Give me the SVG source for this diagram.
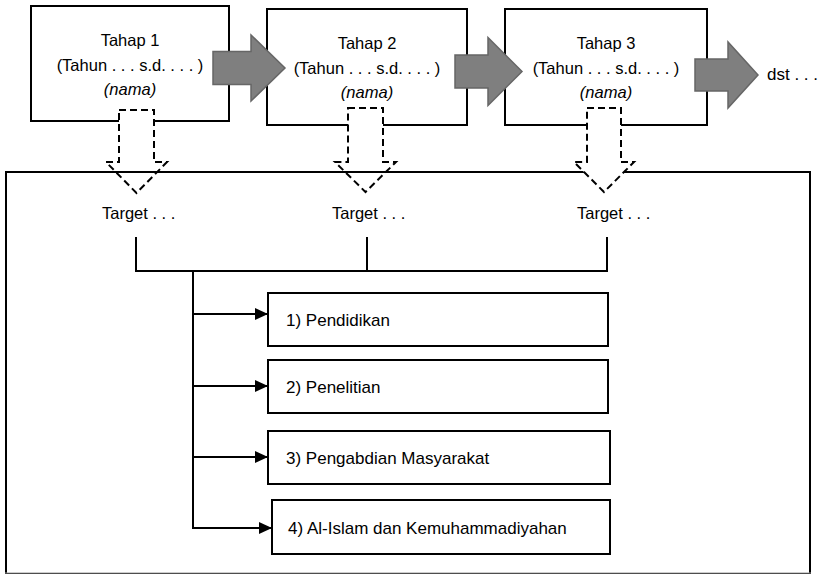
<svg xmlns="http://www.w3.org/2000/svg" width="825" height="574" viewBox="0 0 825 574">
<style>
text{font-family:"Liberation Sans",Arial,sans-serif;fill:#000}
.t{font-size:16.5px;text-anchor:middle}
.it{font-style:italic}
.tg{font-size:16.5px}
.bx{font-size:17px}
.box{fill:#fff;stroke:#000;stroke-width:2}
.big{fill:none;stroke:#000;stroke-width:2}
.gar{fill:#7f7f7f;stroke:#666;stroke-width:1.5;stroke-linejoin:miter}
.dar{fill:#fff;stroke:#000;stroke-width:2;stroke-dasharray:7 4}
.ln{fill:none;stroke:#000;stroke-width:2}
</style>
<defs>
<marker id="ah" markerWidth="13" markerHeight="12" refX="13" refY="6" orient="auto" markerUnits="userSpaceOnUse">
<path d="M0,0 L13,6 L0,12 Z" fill="#000"/>
</marker>
</defs>
<g id="tahap1">
<rect class="box" x="31" y="6" width="198" height="115"/>
<text class="t" x="130" y="46">Tahap 1</text>
<text class="t" x="130" y="71">(Tahun . . . s.d. . . . )</text>
<text class="t it" x="130" y="95">(nama)</text>
</g>
<g id="tahap2">
<rect class="box" x="267" y="9" width="200" height="116"/>
<text class="t" x="367" y="49">Tahap 2</text>
<text class="t" x="367" y="74">(Tahun . . . s.d. . . . )</text>
<text class="t it" x="367" y="98">(nama)</text>
</g>
<g id="tahap3">
<rect class="box" x="505" y="9" width="202" height="116"/>
<text class="t" x="606" y="49">Tahap 3</text>
<text class="t" x="606" y="74">(Tahun . . . s.d. . . . )</text>
<text class="t it" x="606" y="98">(nama)</text>
</g>
<g id="dst">
<text x="767" y="80" style="font-size:17px">dst . . .</text>
</g>
<g id="flow-arrows">
<polygon class="gar" points="213,51.5 251,51.5 251,35 285,68 251,101 251,84.5 213,84.5"/>
<polygon class="gar" points="455,55 488,55 488,37.5 522,71.5 488,105.5 488,88 455,88"/>
<polygon class="gar" points="695,59 728,59 728,42 758,75 728,108 728,91 695,91"/>
</g>
<g id="down-arrows-1-2">
<polygon class="dar" points="119,110 154,110 154,162 167,162 136.5,193 106,162 119,162"/>
<polygon class="dar" points="348,108 383,108 383,162 396,162 365.5,192 335,162 348,162"/>
</g>
<g id="target-panel">
<rect class="big" x="6" y="172" width="804" height="402"/>
<line x1="5" y1="573" x2="811" y2="573" stroke="#9a9a9a" stroke-width="1"/>
</g>
<g id="down-arrow-3">
<polygon class="dar" points="587,108 621,108 621,162 634,162 604,192 574,162 587,162"/>
</g>
<g id="target1"><text class="tg" x="102" y="219">Target . . .</text></g>
<g id="target2"><text class="tg" x="332" y="219">Target . . .</text></g>
<g id="target3"><text class="tg" x="577" y="219">Target . . .</text></g>
<g id="item1">
<rect class="box" x="268" y="293" width="340" height="53"/>
<text class="bx" x="286" y="326">1) Pendidikan</text>
</g>
<g id="item2">
<rect class="box" x="268" y="360" width="340" height="53"/>
<text class="bx" x="286" y="393">2) Penelitian</text>
</g>
<g id="item3">
<rect class="box" x="268" y="431" width="342" height="53"/>
<text class="bx" x="286" y="464">3) Pengabdian Masyarakat</text>
</g>
<g id="item4">
<rect class="box" x="272" y="500" width="338" height="54"/>
<text class="bx" x="288" y="534">4) Al-Islam dan Kemuhammadiyahan</text>
</g>
<g id="connectors">
<line class="ln" x1="136" y1="237" x2="136" y2="271"/>
<line class="ln" x1="367" y1="237" x2="367" y2="271"/>
<line class="ln" x1="607" y1="237" x2="607" y2="271"/>
<line class="ln" x1="135" y1="271" x2="608" y2="271"/>
<line class="ln" x1="193" y1="271" x2="193" y2="529"/>
<line class="ln" x1="192" y1="314" x2="268" y2="314" marker-end="url(#ah)"/>
<line class="ln" x1="192" y1="386" x2="268" y2="386" marker-end="url(#ah)"/>
<line class="ln" x1="192" y1="457" x2="268" y2="457" marker-end="url(#ah)"/>
<line class="ln" x1="192" y1="528" x2="272" y2="528" marker-end="url(#ah)"/>
</g>
</svg>
